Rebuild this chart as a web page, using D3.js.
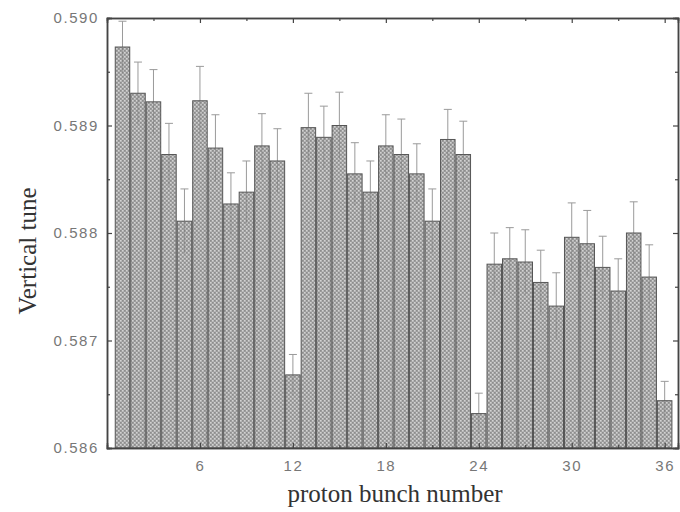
<!DOCTYPE html>
<html><head><meta charset="utf-8">
<script src="https://cdn.jsdelivr.net/npm/d3@7"></script>
<style>body{margin:0;background:#fff}</style>
</head><body>
<svg id="c" width="680" height="512"></svg>
<script>
const bunches = d3.range(1, 37);
const tune = [0.58973,0.58930,0.58922,0.58873,0.58811,0.58923,0.58879,0.58827,0.58838,0.58881,
              0.58867,0.58668,0.58898,0.58889,0.58900,0.58855,0.58838,0.58881,0.58873,0.58855,
              0.58811,0.58887,0.58873,0.58632,0.58771,0.58776,0.58773,0.58754,0.58732,0.58796,
              0.58790,0.58768,0.58746,0.58800,0.58759,0.58644];
const errTop = [0.58997,0.58959,0.58952,0.58902,0.58841,0.58955,0.58910,0.58856,0.58867,0.58911,
                0.58897,0.58687,0.58930,0.58918,0.58931,0.58884,0.58867,0.58910,0.58906,0.58883,
                0.58841,0.58915,0.58904,0.58651,0.58800,0.58805,0.58803,0.58784,0.58763,0.58828,
                0.58821,0.58797,0.58776,0.58829,0.58789,0.58662];
const yTicks = [0.586,0.587,0.588,0.589,0.590];
const xTicks = [6,12,18,24,30,36];

const svg = d3.select("#c");
const L=107, R=678, T=18, B=448;
const x = d3.scaleLinear().domain([0,36.86]).range([L,R]);
const y = d3.scaleLinear().domain([0.586,0.590]).range([B,T]);

const defs = svg.append("defs");
const pat = defs.append("pattern").attr("id","dots").attr("patternUnits","userSpaceOnUse")
  .attr("width",4).attr("height",4);
pat.append("rect").attr("width",4).attr("height",4).attr("fill","#a6a6a6");
pat.append("rect").attr("x",0).attr("y",0).attr("width",1.5).attr("height",1.5).attr("fill","#d2d2d2");
pat.append("rect").attr("x",2).attr("y",2).attr("width",1.5).attr("height",1.5).attr("fill","#d2d2d2");
pat.append("rect").attr("x",2).attr("y",0).attr("width",1.5).attr("height",1.5).attr("fill","#8c8c8c");
pat.append("rect").attr("x",0).attr("y",2).attr("width",1.5).attr("height",1.5).attr("fill","#8c8c8c");

const bw = x(1)-x(0);
const data = bunches.map((b,i)=>({b, v:tune[i], e:errTop[i]}));

const eg = svg.append("g");
data.forEach(d=>{
  const cx = x(d.b);
  eg.append("line").attr("x1",cx).attr("x2",cx).attr("y1",y(d.e)).attr("y2",y(2*d.v-d.e))
    .attr("stroke","#9a9a9a").attr("stroke-width",1);
  eg.append("line").attr("x1",cx-4).attr("x2",cx+4).attr("y1",y(d.e)).attr("y2",y(d.e))
    .attr("stroke","#9a9a9a").attr("stroke-width",1);
});

svg.append("g").selectAll("rect").data(data).join("rect")
  .attr("x",d=>x(d.b)-bw/2+0.5).attr("width",bw-1)
  .attr("y",d=>y(d.v)).attr("height",d=>B-y(d.v))
  .attr("fill","url(#dots)").attr("stroke","#555").attr("stroke-width",1);

const eg2 = svg.append("g");
data.forEach(d=>{
  const cx = x(d.b);
  eg2.append("line").attr("x1",cx).attr("x2",cx).attr("y1",y(d.v)).attr("y2",y(2*d.v-d.e))
    .attr("stroke","#777").attr("stroke-width",1).attr("opacity",0.5);
});

const axCol="#444";
const tickFont = "Arial, 'Liberation Sans', sans-serif";
const yMinorV = [0.5865,0.5875,0.5885,0.5895];
const xMinorV = [3,9,15,21,27,33];
svg.append("g").attr("transform",`translate(${L},0)`)
  .call(d3.axisLeft(y).tickValues(yTicks).tickFormat(d3.format(".3f")).tickSize(-5).tickPadding(8));
svg.append("g").attr("transform",`translate(${L},0)`).call(d3.axisLeft(y).tickValues(yMinorV).tickSize(-3).tickFormat(""));
svg.append("g").attr("transform",`translate(${R},0)`).call(d3.axisRight(y).tickValues(yTicks).tickSize(-5).tickFormat(""));
svg.append("g").attr("transform",`translate(${R},0)`).call(d3.axisRight(y).tickValues(yMinorV).tickSize(-3).tickFormat(""));
svg.append("g").attr("transform",`translate(0,${B})`).call(d3.axisBottom(x).tickValues(xTicks).tickSize(-5).tickPadding(12));
svg.append("g").attr("transform",`translate(0,${B})`).call(d3.axisBottom(x).tickValues(xMinorV).tickSize(-3).tickFormat(""));
svg.append("g").attr("transform",`translate(0,${T})`).call(d3.axisTop(x).tickValues(xTicks).tickSize(-5).tickFormat(""));
svg.append("g").attr("transform",`translate(0,${T})`).call(d3.axisTop(x).tickValues(xMinorV).tickSize(-3).tickFormat(""));

svg.selectAll(".domain").attr("stroke",axCol).attr("stroke-width",1.5);
svg.selectAll(".tick line").attr("stroke",axCol).attr("stroke-width",1.2);
svg.selectAll(".tick text").attr("fill","#777").attr("font-family",tickFont)
  .attr("font-size",15).attr("letter-spacing","1.6px");

svg.append("text").attr("x",395).attr("y",502).attr("text-anchor","middle")
  .attr("font-family","'Liberation Serif','Times New Roman',serif").attr("font-size",25)
  .attr("fill","#333").text("proton bunch number");
svg.append("text").attr("transform",`translate(36,251) rotate(-90)`).attr("text-anchor","middle")
  .attr("font-family","'Liberation Serif','Times New Roman',serif").attr("font-size",25)
  .attr("fill","#333").text("Vertical tune");
</script>
</body></html>
